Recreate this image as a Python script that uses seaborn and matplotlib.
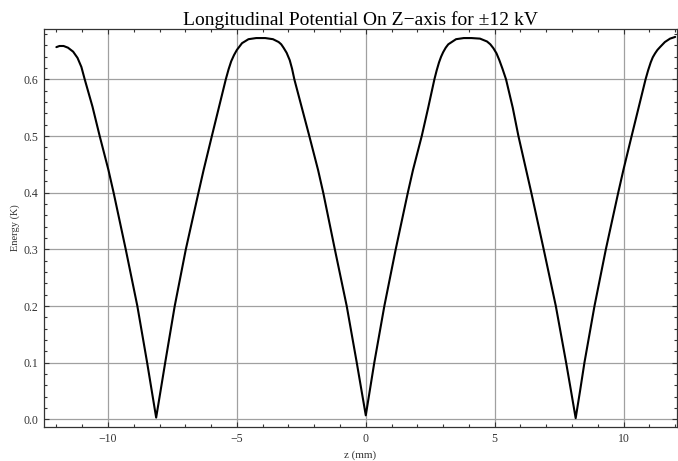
import numpy as np
import pandas as pd
import matplotlib
matplotlib.use("Agg")
import matplotlib.pyplot as plt
import seaborn as sns
from matplotlib.ticker import MultipleLocator

# ---- data ----
z_mm = [
    -12.00, -11.88, -11.72, -11.55, -11.35, -11.18, -11.03, -10.90, -10.60, -10.32,
    -9.98, -9.78, -9.31, -8.86, -8.48, -8.30, -8.13,
    -7.96, -7.78, -7.41, -6.98, -6.49, -6.29, -5.97, -5.70, -5.43, -5.32,
    -5.22, -5.11, -5.00, -4.80, -4.55, -4.25, -3.90, -3.60, -3.38, -3.28,
    -3.19, -3.07, -2.95, -2.86, -2.77, -2.48, -2.19, -1.85, -1.65, -1.20,
    -0.74, -0.35, -0.17, 0.00,
    0.16, 0.33, 0.72, 1.16, 1.63, 1.83, 2.17, 2.42, 2.66, 2.75,
    2.84, 2.92, 3.00, 3.10, 3.20, 3.50, 3.80, 4.10, 4.43, 4.70,
    4.83, 4.95, 5.07, 5.18, 5.30, 5.44, 5.70, 5.92, 6.22, 6.42,
    6.90, 7.37, 7.77, 7.96, 8.14,
    8.31, 8.48, 8.87, 9.31, 9.79, 9.99, 10.31, 10.58, 10.85, 10.95,
    11.05, 11.13, 11.22, 11.31, 11.41, 11.60, 11.80, 12.00,
]
energy_K = [
    0.657, 0.659, 0.659, 0.656, 0.649, 0.638, 0.622, 0.600, 0.552, 0.500,
    0.440, 0.400, 0.300, 0.200, 0.100, 0.050, 0.003,
    0.050, 0.100, 0.200, 0.300, 0.400, 0.440, 0.500, 0.550, 0.600, 0.618,
    0.632, 0.643, 0.652, 0.664, 0.671, 0.673, 0.673, 0.671, 0.666, 0.662,
    0.656, 0.647, 0.634, 0.619, 0.600, 0.550, 0.500, 0.440, 0.400, 0.300,
    0.200, 0.100, 0.052, 0.007,
    0.052, 0.100, 0.200, 0.300, 0.400, 0.440, 0.500, 0.550, 0.600, 0.616,
    0.630, 0.640, 0.648, 0.656, 0.662, 0.671, 0.673, 0.673, 0.672, 0.667,
    0.662, 0.655, 0.646, 0.634, 0.619, 0.600, 0.550, 0.500, 0.440, 0.400,
    0.300, 0.200, 0.100, 0.050, 0.002,
    0.050, 0.100, 0.200, 0.300, 0.400, 0.440, 0.500, 0.550, 0.600, 0.616,
    0.630, 0.639, 0.646, 0.652, 0.657, 0.666, 0.672, 0.675,
]
x_ticks = [-10, -5, 0, 5, 10]
x_tick_labels = ["\u221210", "\u22125", "0", "5", "10"]
y_ticks = [0.0, 0.1, 0.2, 0.3, 0.4, 0.5, 0.6]
y_tick_labels = ["0.0", "0.1", "0.2", "0.3", "0.4", "0.5", "0.6"]

title_text = "Longitudinal Potential On Z\u2212axis for \u00b112 kV"
x_label = "z (mm)"
y_label = "Energy (K)"

df = pd.DataFrame({"z": z_mm, "E": energy_K})

sns.set_style("ticks")
plt.rcParams["font.family"] = ["Liberation Serif", "DejaVu Serif"]

fig = plt.figure(figsize=(6.78, 4.61), dpi=100)
W, H = 678, 461
left, right, top, bottom = 44, 677, 29, 427
ax = fig.add_axes([left / W, 1 - bottom / H, (right - left) / W, (bottom - top) / H])

sns.lineplot(data=df, x="z", y="E", ax=ax, color="black", linewidth=1.5,
             sort=False, estimator=None)

ax.set_xlim(-12.48, 12.07)
ax.set_ylim(-0.0136, 0.689)

ax.set_xticks(x_ticks)
ax.set_xticklabels(x_tick_labels)
ax.set_yticks(y_ticks)
ax.set_yticklabels(y_tick_labels)
ax.xaxis.set_minor_locator(MultipleLocator(1))
ax.yaxis.set_minor_locator(MultipleLocator(0.02))

ax.grid(True, which="major", color="#a0a0a0", linewidth=0.9)
ax.set_axisbelow(True)

ax.tick_params(which="both", direction="in", top=True, right=True,
               colors="#333333", labelcolor="#333333", width=0.8)
ax.tick_params(which="major", length=3.5, labelsize=8.5, pad=4)
ax.tick_params(which="minor", length=2.2)

for s in ax.spines.values():
    s.set_color("#333333")
    s.set_linewidth(0.9)

ax.set_xlabel(x_label, fontsize=8, color="#333333", labelpad=4)
ax.set_ylabel(y_label, fontsize=7.5, color="#333333", labelpad=2.5)
ax.set_title(title_text, fontsize=14, color="black", pad=3)

fig.savefig("out.png", dpi=100)
